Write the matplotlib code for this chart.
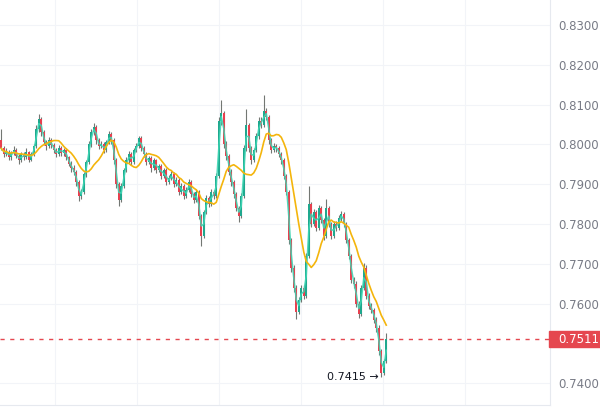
import numpy as np
import pandas as pd
import matplotlib
matplotlib.use("Agg")
import matplotlib.pyplot as plt
import matplotlib.transforms as mtransforms
from matplotlib.patches import Rectangle

# prices in pips (x 1e-4); open of each candle = previous close
first_open = 8010
closes = [
    7990, 7975, 7982, 7968, 7978, 7985, 7972, 7960, 7975, 7968,
    7980, 7962, 7975, 7995, 8040, 8065, 8030, 8005, 7995, 8010,
    7998, 7985, 7975, 7990, 7978, 7985, 7968, 7952, 7940, 7930,
    7905, 7870, 7880, 7925, 7955, 8000, 8030, 8045, 8010, 7995,
    8000, 7985, 8005, 8025, 8010, 7960, 7900, 7860, 7895, 7935,
    7960, 7975, 7955, 7985, 7995, 8015, 7990, 7975, 7955, 7965,
    7940, 7960, 7935, 7945, 7920, 7935, 7905, 7915, 7925, 7900,
    7910, 7880, 7895, 7870, 7885, 7905, 7875, 7860, 7880, 7820,
    7770, 7830, 7865, 7850, 7880, 7870, 7920, 8060, 8080, 8000,
    7970, 7930, 7905, 7875, 7840, 7820, 7870, 7990, 8050, 7990,
    7960, 7985, 8020, 8060, 8050, 8085, 8070, 8010, 7985, 7995,
    7990, 7975, 7960, 7920, 7880, 7760, 7690, 7640, 7580, 7610,
    7640, 7620, 7720, 7850, 7800, 7830, 7790, 7840, 7810, 7770,
    7840, 7800, 7770, 7800, 7790, 7815, 7825, 7800, 7760, 7720,
    7660, 7650, 7600, 7575, 7640, 7690, 7620, 7595, 7585, 7560,
    7540, 7480, 7425, 7455, 7511,
]
highs = [
    8040, 7995, 7990, 7986, 7984, 7995, 7990, 7976, 7982, 7980,
    7990, 7984, 7982, 8002, 8048, 8076, 8070, 8036, 8012, 8018,
    8015, 8004, 7990, 7998, 7995, 7992, 7990, 7972, 7958, 7948,
    7935, 7910, 7888, 7932, 7962, 8008, 8038, 8055, 8050, 8016,
    8008, 8005, 8012, 8034, 8030, 8015, 7966, 7905, 7902, 7942,
    7968, 7984, 7980, 7992, 8004, 8022, 8020, 7996, 7980, 7972,
    7970, 7966, 7964, 7952, 7950, 7942, 7940, 7922, 7934, 7930,
    7918, 7915, 7902, 7900, 7892, 7912, 7910, 7880, 7888, 7885,
    7826, 7836, 7872, 7870, 7888, 7886, 7928, 8070, 8112, 8085,
    8008, 7976, 7938, 7910, 7880, 7846, 7878, 7998, 8090, 8055,
    7996, 7992, 8028, 8068, 8070, 8125, 8092, 8075, 8016, 8004,
    8002, 7996, 7980, 7965, 7925, 7885, 7766, 7696, 7648, 7618,
    7648, 7646, 7728, 7895, 7856, 7838, 7836, 7848, 7846, 7816,
    7862, 7846, 7806, 7808, 7808, 7822, 7832, 7830, 7806, 7766,
    7726, 7668, 7656, 7606, 7648, 7702, 7696, 7626, 7602, 7590,
    7566, 7546, 7486, 7462, 7526,
]
lows = [
    7985, 7968, 7970, 7960, 7962, 7974, 7966, 7952, 7956, 7962,
    7964, 7955, 7958, 7970, 7990, 8032, 8022, 7998, 7986, 7990,
    7992, 7978, 7968, 7970, 7972, 7972, 7960, 7945, 7932, 7922,
    7896, 7858, 7862, 7876, 7918, 7950, 7994, 8024, 8002, 7988,
    7990, 7978, 7980, 8000, 8002, 7952, 7890, 7845, 7855, 7890,
    7930, 7954, 7948, 7950, 7980, 7990, 7984, 7968, 7948, 7950,
    7932, 7935, 7928, 7930, 7912, 7915, 7898, 7900, 7910, 7892,
    7895, 7872, 7875, 7862, 7865, 7880, 7868, 7852, 7855, 7812,
    7745, 7765, 7825, 7842, 7845, 7862, 7865, 7915, 8050, 7992,
    7962, 7922, 7896, 7866, 7832, 7805, 7815, 7865, 7984, 7982,
    7952, 7955, 7980, 8014, 8042, 8045, 8062, 8002, 7978, 7980,
    7982, 7968, 7952, 7912, 7872, 7750, 7680, 7630, 7562, 7574,
    7604, 7612, 7615, 7714, 7792, 7794, 7782, 7784, 7802, 7760,
    7764, 7792, 7762, 7765, 7782, 7785, 7808, 7792, 7752, 7712,
    7652, 7640, 7592, 7565, 7570, 7634, 7612, 7586, 7576, 7552,
    7530, 7470, 7415, 7420, 7450,
]
last_price = 0.7511
low_label = "0.7415 →"
y_ticks = [0.7400, 0.7600, 0.7700, 0.7800, 0.7900, 0.8000, 0.8100, 0.8200, 0.8300]

close = np.array(closes) / 1e4
high = np.array(highs) / 1e4
low = np.array(lows) / 1e4
opn = np.concatenate([[first_open / 1e4], close[:-1]])
idx = np.arange(len(close))

ma_slow = pd.Series(close).rolling(10, min_periods=1).mean()
ma_fast = pd.Series(close).rolling(2, min_periods=1).mean()

UP = "#1fa88e"
DOWN = "#e8404f"
GRID = "#f2f4f8"

fig = plt.figure(figsize=(6, 4.12), dpi=100)
ax = fig.add_axes([0, 0.017, 550 / 600, 0.983])

up = close >= opn
colors = np.where(up, UP, DOWN)
ax.vlines(idx, low, high, colors="#5b5f5a", linewidth=0.8, alpha=0.85, zorder=2)
body_lo = np.minimum(opn, close)
body_h = np.maximum(np.abs(close - opn), 0.00008)
ax.bar(idx, body_h, bottom=body_lo, width=0.7, color=colors, linewidth=0, zorder=2)

ax.plot(idx, ma_fast, color="#3fd6b4", lw=1.1, alpha=0.9, zorder=3)
ax.plot(idx, ma_slow, color="#f4b50c", lw=1.2, zorder=4)

# last price line + tag
ax.axhline(last_price, color="#e5474f", lw=1.0, ls=(0, (3, 4)), zorder=1)
trans = mtransforms.blended_transform_factory(ax.transAxes, ax.transData)
ax.add_patch(Rectangle((0.998, last_price - 0.002), 0.095, 0.004, transform=trans,
                       color="#e5474f", clip_on=False, zorder=5))
ax.text(1 + 8 / 550, last_price, f"{last_price:.4f}", transform=trans, color="white",
        fontsize=8.5, va="center", ha="left", zorder=6)

# lowest point label
imin = int(np.argmin(low))
ax.annotate(low_label, xy=(imin, low[imin]), xytext=(-2, 0), textcoords="offset points",
            ha="right", va="center", fontsize=8, color="#131722")

ax.set_xlim(-0.5, 219.5)
ax.set_ylim(0.73455, 0.83628)
ax.set_yticks(y_ticks)
ax.set_yticklabels([f"{t:.4f}" for t in y_ticks])
ax.yaxis.tick_right()
ax.tick_params(axis="y", length=0, pad=6, labelsize=8.5, labelcolor="#787b86")
ax.set_xticks([])
ax.grid(axis="y", color=GRID, lw=0.8)
for gx in [21.5, 54.3, 87.1, 119.9, 152.7, 185.5]:
    ax.axvline(gx, color=GRID, lw=0.8, zorder=0)
ax.set_axisbelow(True)
for s in ["top", "left"]:
    ax.spines[s].set_visible(False)
for s in ["right", "bottom"]:
    ax.spines[s].set_color("#e6e9ef")
    ax.spines[s].set_linewidth(0.8)

fig.savefig("out.png", dpi=100)
